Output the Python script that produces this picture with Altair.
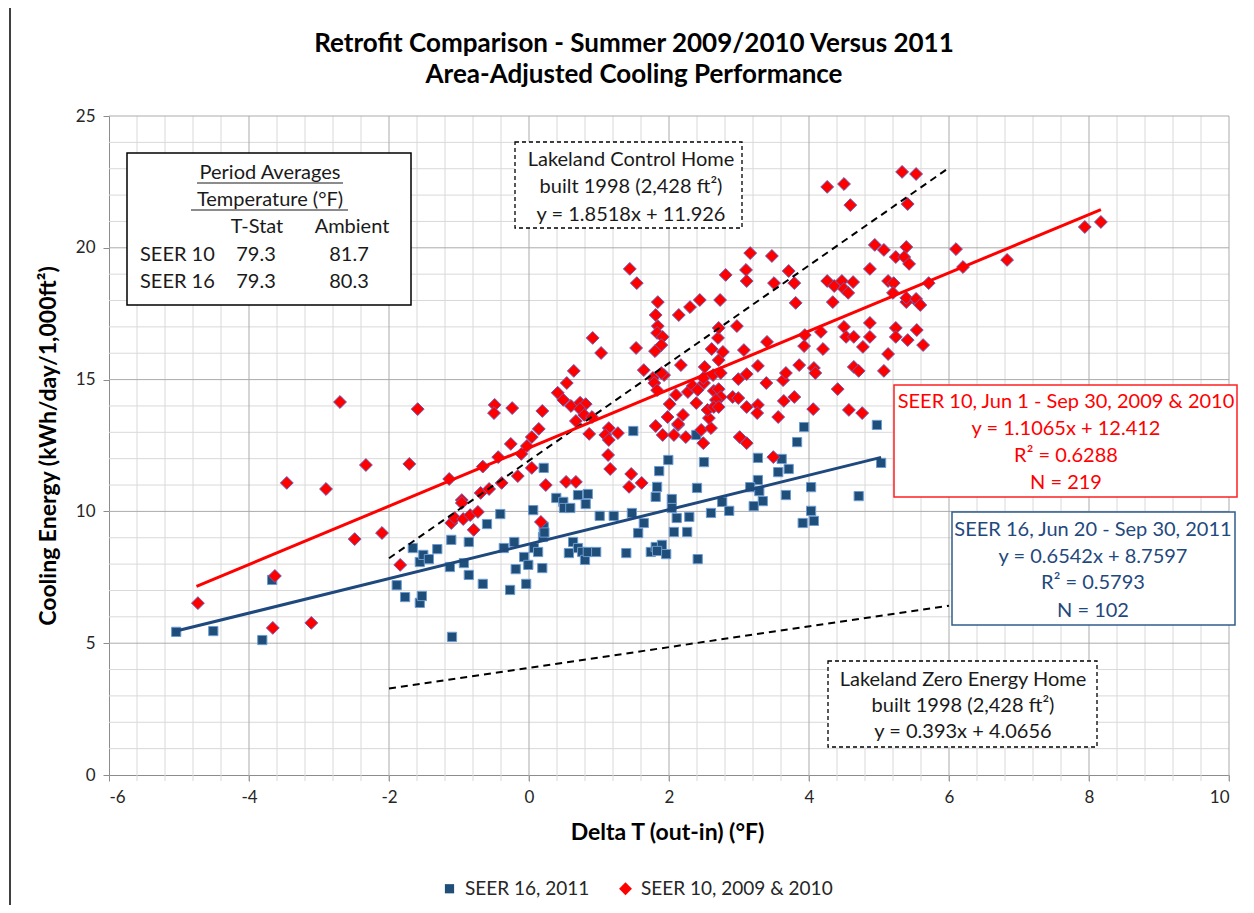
import altair as alt
import pandas as pd

# ---------------- data ----------------
S16 = "SEER 16, 2011"
S10 = "SEER 10, 2009 & 2010"

blue_x = [-5.04, -4.51, -3.81, -3.67, -1.89, -1.77, -1.56, -1.53, -1.56, -1.51,
          -1.43, -1.66, -1.31, -1.13, -1.11, -1.10, -0.93, -0.86, -0.86, -0.66,
          -0.60, -0.41, -0.36, -0.27, -0.21, -0.19, -0.07, -0.04, -0.01, 0.06,
          0.07, 0.13, 0.19, 0.20, 0.21, 0.22, 0.39, 0.49, 0.50, 0.59,
          0.70, 0.84, 0.81, 0.63, 0.57, 0.70, 0.76, 0.80, 0.84, 0.96,
          1.01, 1.21, 1.39, 1.47, 1.56, 1.64, 1.74, 1.81, 1.90, 1.83,
          1.96, 1.81, 1.83, 2.04, 2.11, 2.07, 1.49, 0.21, 1.99, 1.86,
          3.93, 3.83, 4.97, 5.03, 2.39, 2.50, 3.27, 3.61, 3.56, 3.71,
          3.27, 3.16, 3.29, 4.03, 4.71, 3.67, 2.40, 2.04, 2.29, 2.26,
          2.41, 2.60, 2.76, 2.86, 3.34, 3.21, 4.03, 3.91, 4.07]
blue_y = [5.43, 5.46, 5.12, 7.40, 7.20, 6.75, 6.53, 6.79, 8.08, 8.35,
          8.19, 8.61, 8.57, 7.89, 8.92, 5.24, 8.04, 7.59, 8.84, 7.25,
          9.52, 9.90, 8.61, 7.02, 8.84, 7.81, 8.27, 7.25, 7.97, 10.05,
          8.61, 8.46, 7.85, 9.03, 9.41, 9.20, 10.51, 10.36, 10.13, 10.13,
          10.62, 10.66, 10.28, 8.84, 8.42, 8.61, 8.46, 8.16, 8.46, 8.46,
          9.83, 9.83, 8.42, 9.94, 9.18, 9.56, 8.46, 8.65, 8.73, 8.50,
          8.38, 10.55, 10.93, 10.47, 9.75, 9.22, 13.05, 11.65, 11.95, 11.53,
          13.20, 12.63, 13.28, 11.84, 12.90, 11.87, 12.03, 11.99, 11.49, 11.61,
          11.19, 10.92, 10.77, 10.92, 10.58, 10.62, 10.89, 10.13, 9.79, 9.22,
          8.19, 9.94, 10.36, 10.02, 10.39, 10.20, 10.02, 9.56, 9.64]

red_x = [-4.73, -3.63, -3.66, -3.11, -2.49, -2.10, -3.46, -2.90, -1.84, -2.70,
         -2.33, -1.59, -1.71, -1.14, -0.49, -0.50, -0.24, 0.19, -0.66, -0.44,
         -0.26, -0.11, -0.03, 0.04, 0.14, 0.04, -0.16, -0.39, -0.69, -0.57,
         -0.96, 0.24, 0.53, 0.67, 0.41, 0.49, 0.54, 0.64, 0.60, 0.73,
         0.81, 0.73, 0.79, 0.67, 0.90, 0.86, 0.91, 1.03, 1.14, 1.09,
         1.14, 1.27, 1.13, 1.16, 1.46, 1.43, 1.61, 1.53, 1.64, 1.77,
         1.79, 1.93, 1.83, 1.81, 1.91, 2.07, 2.13, 2.01, 2.10, 2.14,
         1.84, 1.81, 1.84, 1.83, 1.91, 1.89, 1.80, 1.44, 1.54, -1.11,
         -1.06, -0.94, -0.84, -0.96, -0.73, -0.79, 0.17, 2.30, 2.44, 2.73,
         1.89, 2.17, 1.98, 2.20, 2.13, 2.24, 2.49, 2.46, 2.60, 2.57,
         2.55, 2.39, 2.27, 2.34, 2.41, 2.50, 2.64, 2.71, 2.74, 2.67,
         2.64, 2.71, 2.49, 2.51, 2.63, 2.74, 2.71, 2.61, 2.77, 2.70,
         2.71, 2.97, 3.07, 2.99, 3.11, 2.91, 2.99, 3.11, 3.27, 3.26,
         3.01, 3.11, 3.39, 3.27, 3.40, 3.56, 3.49, 3.63, 3.67, 3.64,
         3.79, 3.86, 3.93, 3.94, 4.07, 4.09, 4.06, 4.17, 4.20, 4.41,
         4.50, 4.53, 4.64, 4.77, 4.87, 4.87, 4.64, 4.71, 4.57, 4.76,
         5.07, 5.13, 5.24, 5.24, 5.41, 5.54, 5.63, 5.56, 5.39, 4.34,
         3.81, 4.26, 4.50, 4.59, 5.33, 5.53, 5.41, 3.16, 3.47, 2.81,
         3.10, 3.11, 3.50, 3.71, 3.79, 4.26, 4.36, 4.47, 4.63, 4.50,
         4.56, 4.94, 5.07, 4.87, 5.24, 5.39, 5.36, 5.43, 5.13, 5.21,
         5.20, 5.39, 5.53, 5.59, 5.71, 6.10, 6.20, 6.83, 7.94, 8.17]
red_y = [6.52, 7.55, 5.58, 5.77, 8.95, 9.18, 11.08, 10.85, 7.97, 14.15,
         11.76, 13.88, 11.80, 11.23, 14.04, 13.73, 13.92, 13.81, 11.70, 12.06,
         12.56, 12.18, 12.48, 12.82, 13.13, 11.65, 11.34, 11.08, 10.70, 10.85,
         10.43, 11.00, 11.12, 11.12, 14.50, 14.23, 14.87, 15.33, 14.00, 14.12,
         14.07, 13.88, 13.66, 13.43, 13.58, 12.94, 16.58, 16.01, 13.16, 12.90,
         12.71, 12.97, 12.14, 11.61, 11.42, 10.93, 11.08, 16.20, 15.36, 15.06,
         14.87, 15.17, 14.60, 13.24, 12.90, 12.90, 13.28, 14.07, 14.42, 17.45,
         17.94, 17.45, 17.03, 16.77, 16.62, 16.31, 16.08, 19.20, 18.66, 9.56,
         9.75, 9.71, 9.86, 10.32, 9.98, 9.30, 9.60, 17.75, 18.02, 18.02,
         15.25, 15.55, 13.58, 13.66, 13.32, 12.82, 12.59, 13.09, 13.16, 13.54,
         13.85, 14.11, 14.53, 14.76, 14.61, 14.87, 14.57, 14.64, 14.34, 14.23,
         13.96, 13.96, 15.06, 15.48, 15.17, 15.25, 15.74, 16.16, 16.05, 16.58,
         16.96, 17.03, 16.12, 15.02, 15.21, 14.34, 14.30, 13.96, 14.04, 13.73,
         12.82, 12.59, 14.87, 15.52, 16.43, 13.58, 12.06, 14.98, 15.25, 14.19,
         14.34, 15.55, 16.27, 16.69, 15.44, 15.25, 13.88, 16.81, 16.16, 14.64,
         17.00, 16.62, 16.62, 16.24, 16.62, 17.15, 15.48, 15.33, 13.85, 13.73,
         15.33, 15.97, 16.96, 16.62, 16.50, 16.88, 16.31, 17.91, 17.94, 17.94,
         17.91, 22.31, 22.42, 21.62, 22.88, 22.80, 21.66, 19.80, 19.69, 18.97,
         19.16, 18.74, 18.66, 19.12, 18.66, 18.74, 18.55, 18.74, 18.70, 18.44,
         18.29, 20.11, 19.92, 19.20, 19.65, 20.03, 19.65, 19.39, 18.74, 18.66,
         18.29, 18.10, 18.06, 17.83, 18.66, 19.95, 19.27, 19.54, 20.79, 20.98]

# trend lines as printed on the chart: name, slope, intercept, x start, x end
trend_names = ["SEER 10 fit", "SEER 16 fit", "Control home", "Zero energy home"]
trend_slope = [1.1065, 0.6542, 1.8518, 0.393]
trend_icept = [12.412, 8.7597, 11.926, 4.0656]
trend_x0 = [-4.75, -5.07, -2.0, -2.0]
trend_x1 = [8.17, 5.03, 6.0, 6.0]

x_ticks = [-6, -4, -2, 0, 2, 4, 6, 8, 10]
y_ticks = [0, 5, 10, 15, 20, 25]

title_lines = ["Retrofit Comparison - Summer 2009/2010 Versus 2011", "Area-Adjusted Cooling Performance"]

# ---------------- layout helpers ----------------
W, H = 1120, 659
PX0, PY0 = 109, 116          # page position of plot origin
FONT = "Lato"
BOX_FS = 20


def gx(p):  # page pixel -> data x
    return -6 + (p - PX0) / (W / 16.0)


def gy(p):  # page pixel -> data y
    return 25 - (p - PY0) / (H / 25.0)


xs = alt.Scale(domain=[-6, 10], nice=False, zero=False)
ys = alt.Scale(domain=[0, 25], nice=False, zero=False)
X_TITLE = "Delta T (out-in) (°F)"
Y_TITLE = "Cooling Energy (kWh/day/1,000ft²)"
x_axis = alt.Axis(values=x_ticks, labelExpr="'' + datum.value", titleX=W / 2 - 2, titleY=57,
                  titleBaseline="middle", title=X_TITLE)
y_axis = alt.Axis(values=y_ticks, labelExpr="'' + datum.value", titleX=-61, titleY=H / 2,
                  titleBaseline="middle", titleAngle=-90, title=Y_TITLE)


def X(field):
    return alt.X(field, scale=xs, axis=x_axis, title=X_TITLE)


def Y(field):
    return alt.Y(field, scale=ys, axis=y_axis, title=Y_TITLE)


# ---------------- grid ----------------
minor_x = [round(-6 + 0.4 * i, 2) for i in range(41) if (i % 5) != 0]
major_x = [float(v) for v in x_ticks]
minor_y = [float(v) for v in range(0, 26) if v % 5 != 0]
major_y = [float(v) for v in y_ticks]


def vgrid(vals, color):
    return alt.Chart(pd.DataFrame({"gx": vals})).mark_rule(color=color, strokeWidth=1).encode(
        x=X("gx:Q"), y=alt.value(0), y2=alt.value(H + 6))


def hgrid(vals, color):
    return alt.Chart(pd.DataFrame({"gy": vals})).mark_rule(color=color, strokeWidth=1).encode(
        y=Y("gy:Q"), x=alt.value(0), x2=alt.value(W))


grid = vgrid(minor_x, "#D9D9D9") + hgrid(minor_y, "#D9D9D9") + \
    vgrid(major_x[1:], "#ABABAB") + hgrid(major_y[1:], "#ABABAB")

# outer frame line at the left edge of the picture
frame = alt.Chart(pd.DataFrame({"k": [0]})).mark_rule(color="#000000", strokeWidth=1.5).encode(
    x=alt.value(10 - PX0), y=alt.value(-PY0), y2=alt.value(913 - PY0))

# chart title (two centred bold lines above the plot)
title_df = pd.DataFrame({"t": title_lines, "a": [gx(634), gx(634)], "b": [gy(44), gy(75)]})
title_layer = alt.Chart(title_df).mark_text(font=FONT, fontSize=26, fontWeight="bold", color="#000000",
                                            align="center", baseline="middle").encode(
    x=X("a:Q"), y=Y("b:Q"), text="t:N")

# ---------------- trend lines ----------------
rows = []
for n, a, b, x0, x1 in zip(trend_names, trend_slope, trend_icept, trend_x0, trend_x1):
    for xv in (x0, x1):
        rows.append({"name": n, "dT": xv, "E": a * xv + b})
tl = pd.DataFrame(rows)


def line(name, color, width, dash=None):
    kw = dict(color=color, strokeWidth=width)
    if dash:
        kw["strokeDash"] = dash
    return alt.Chart(tl[tl.name == name]).mark_line(**kw).encode(x=X("dT:Q"), y=Y("E:Q"))


lines = line("Control home", "#000000", 2, [7, 5]) + line("Zero energy home", "#000000", 2, [7, 5]) + \
    line("SEER 16 fit", "#1F497D", 3) + line("SEER 10 fit", "#FF0000", 3)

# ---------------- points ----------------
pts = pd.DataFrame({
    "dT": blue_x + red_x,
    "E": blue_y + red_y,
    "series": [S16] * len(blue_x) + [S10] * len(red_x),
})
dom = [S16, S10]
leg = alt.Legend(title=None, orient="none", legendX=331, legendY=763, direction="horizontal",
                 labelFont=FONT, labelFontSize=19, labelColor="#262626", symbolSize=60,
                 symbolStrokeWidth=0, columnPadding=26, labelOffset=6, labelLimit=400)
points = alt.Chart(pts).mark_point(filled=True, opacity=1, strokeWidth=1).encode(
    x=X("dT:Q"),
    y=Y("E:Q"),
    color=alt.Color("series:N", scale=alt.Scale(domain=dom, range=["#1F4E79", "#FF0000"]), legend=leg),
    shape=alt.Shape("series:N", scale=alt.Scale(domain=dom, range=["square", "diamond"]), legend=leg),
    stroke=alt.Stroke("series:N", scale=alt.Scale(domain=dom, range=["#6C9BD2", "#6B5BB5"]), legend=None),
    size=alt.Size("series:N", scale=alt.Scale(domain=dom, range=[85, 165]), legend=None),
)

# ---------------- annotation boxes (page pixels -> data) ----------------
boxes = [
    # x0, y0, x1, y1, stroke, dashed
    (127, 153, 411, 305, "#000000", False),
    (515, 142, 742, 228, "#000000", True),
    (894, 385, 1237, 497, "#FF2020", False),
    (952, 512, 1235, 625, "#2F5D8C", False),
    (828, 661, 1097, 747, "#000000", True),
]


def box(b):
    x0, y0, x1, y1, col, dashed = b
    df = pd.DataFrame({"a": [gx(x0)], "a2": [gx(x1)], "b": [gy(y0)], "b2": [gy(y1)]})
    kw = dict(fill="white", stroke=col, strokeWidth=1.5 if not dashed else 1.3)
    if dashed:
        kw["strokeDash"] = [4, 3]
    return alt.Chart(df).mark_rect(**kw).encode(x=X("a:Q"), x2="a2:Q", y=Y("b:Q"), y2="b2:Q")


box_layer = alt.layer(*[box(b) for b in boxes])

TXT = "#1A1A1A"
RED = "#FF0000"
BLU = "#1F497D"
texts = [
    # text, page x, page y, align, color
    ("Period Averages", 270, 173, "center", TXT),
    ("Temperature (°F)", 270, 200, "center", TXT),
    ("T-Stat", 257, 227, "center", TXT),
    ("Ambient", 352, 227, "center", TXT),
    ("SEER 10", 140, 255, "left", TXT),
    ("79.3", 256, 255, "center", TXT),
    ("81.7", 349, 255, "center", TXT),
    ("SEER 16", 140, 282, "left", TXT),
    ("79.3", 256, 282, "center", TXT),
    ("80.3", 349, 282, "center", TXT),
    ("Lakeland Control Home", 631, 160, "center", TXT),
    ("built 1998 (2,428 ft²)", 631, 187, "center", TXT),
    ("y = 1.8518x + 11.926", 631, 215, "center", TXT),
    ("SEER 10, Jun 1 - Sep 30, 2009 & 2010", 1066, 402, "center", RED),
    ("y = 1.1065x + 12.412", 1066, 429, "center", RED),
    ("R² = 0.6288", 1066, 456, "center", RED),
    ("N = 219", 1066, 483, "center", RED),
    ("SEER 16, Jun 20 - Sep 30, 2011", 1093, 530, "center", BLU),
    ("y = 0.6542x + 8.7597", 1093, 557, "center", BLU),
    ("R² = 0.5793", 1093, 583, "center", BLU),
    ("N = 102", 1093, 611, "center", BLU),
    ("Lakeland Zero Energy Home", 963, 680, "center", TXT),
    ("built 1998 (2,428 ft²)", 963, 706, "center", TXT),
    ("y = 0.393x + 4.0656", 963, 732, "center", TXT),
]


def txt(t):
    s, px, py, al, col = t
    df = pd.DataFrame({"t": [s], "a": [gx(px)], "b": [gy(py)]})
    return alt.Chart(df).mark_text(font=FONT, fontSize=BOX_FS, align=al, baseline="middle", color=col).encode(
        x=X("a:Q"), y=Y("b:Q"), text="t:N")


text_layer = alt.layer(*[txt(t) for t in texts])

underlines = [(197, 343, 183), (191, 348, 210)]
ul = pd.DataFrame({"a": [gx(u[0]) for u in underlines], "a2": [gx(u[1]) for u in underlines],
                   "b": [gy(u[2]) for u in underlines]})
ul_layer = alt.Chart(ul).mark_rule(color=TXT, strokeWidth=1.2).encode(x=X("a:Q"), x2="a2:Q", y=Y("b:Q"))

chart = alt.layer(grid, points, lines, box_layer, text_layer, ul_layer, title_layer, frame).properties(
    width=W, height=H,
    background="white",
    autosize=alt.AutoSizeParams(type="none"),
    padding={"left": PX0 - 8, "top": PY0 - 8, "right": 1254 - 16 - (PX0 - 8) - W,
             "bottom": 913 - 16 - (PY0 - 8) - H},
).configure_view(stroke=None).configure_axis(
    grid=False, domainColor="#8C8C8C", tickColor="#8C8C8C", tickSize=6, labelPadding=8,
    labelFont=FONT, labelFontSize=17, labelColor="#262626",
    titleFont=FONT, titleFontSize=23, titleFontWeight="bold", titleColor="#000000",
)

chart.save("out.html", embed_options={"renderer": "svg", "actions": False})
